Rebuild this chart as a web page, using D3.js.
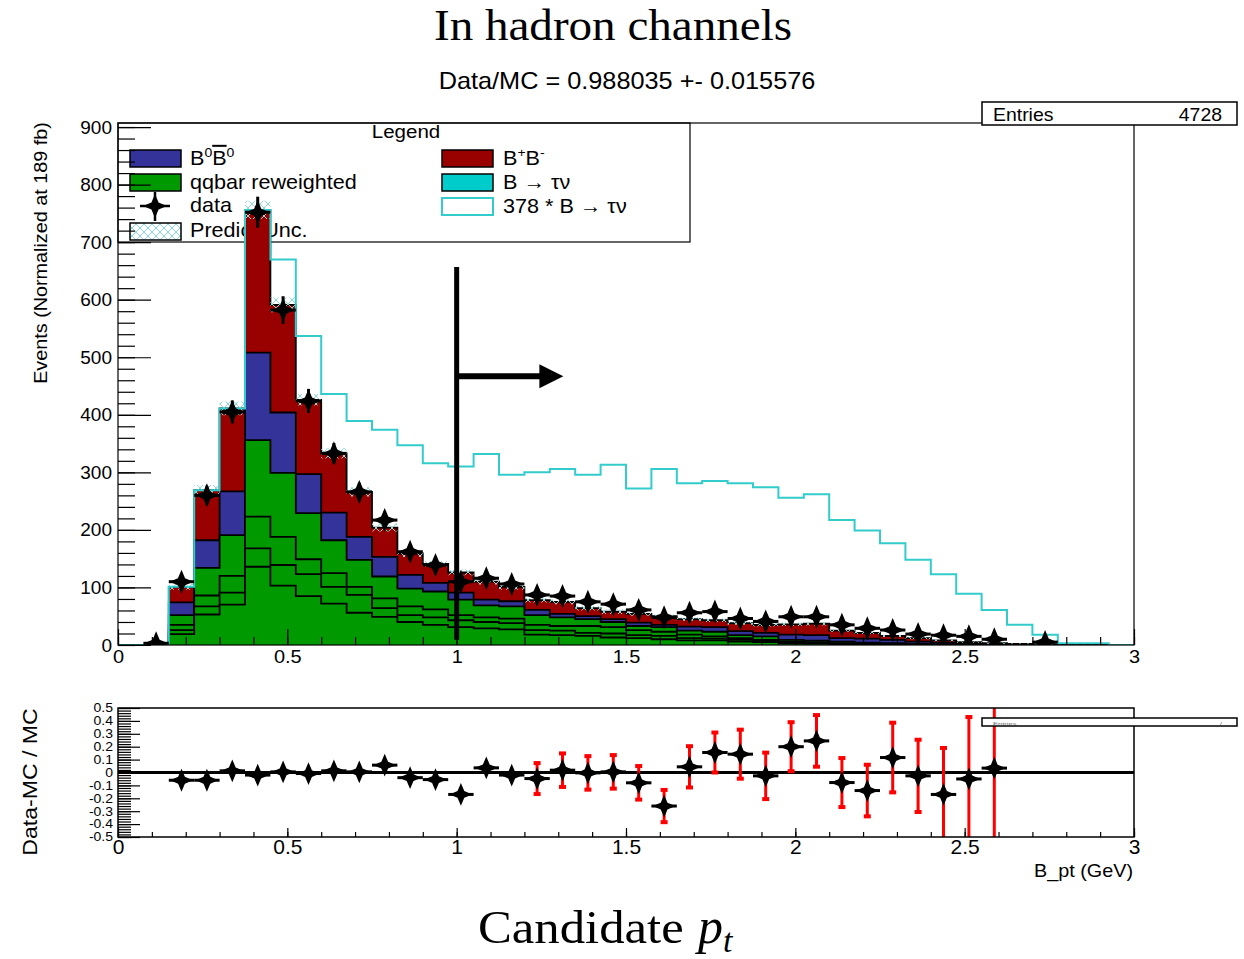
<!DOCTYPE html>
<html>
<head>
<meta charset="utf-8">
<script src="https://cdn.jsdelivr.net/npm/d3@7"></script>
<style>
  body { margin: 0; background: #fff; }
  svg { display: block; }
  text { font-family: "Liberation Sans", Arial, sans-serif; }
</style>
</head>
<body>
<div id="chart"></div>
<script>
// binning: 40 bins of 0.075 GeV over 0-3 GeV
var nBins = 40, binW = 0.075;

var xTickLabels = ["0", "0.5", "1", "1.5", "2", "2.5", "3"];
var yTickLabels = ["0", "100", "200", "300", "400", "500", "600", "700", "800", "900"];
var ratioTickLabels = ["-0.5", "-0.4", "-0.3", "-0.2", "-0.1", "0", "0.1", "0.2", "0.3", "0.4", "0.5"];

// stacked MC components (bottom to top), events per bin
var qq1  = [0,0,19,53,70,136,103,85,72,56,49,40,35,31,29,27,18,17,16,13,12,10,8,8,6,5,3,2.5,1.5,1,0.5,0.3,0.2,0.1,0,0,0,0,0,0];
var qq2  = [0,0,7,14,21,32,36,38,29,31,15,12,13,12,11,11,8,8,5,7,5,6,4,3,3,2,1,1,0.5,0.5,0.5,0.3,0.2,0.1,0.1,0,0,0,0,0];
var qq3  = [0,0,9,19,29,55,49,26,24,14,17,15,14,9,8,8,9,8,12,11,9,7,6,4,3,2,2,1.5,1,1,1,0.4,0.2,0.2,0.1,0.1,0,0,0,0];
var qq4  = [0,0,17,48,71,133,111,80,57,47,38,31,31,27,21,21,17,15,12,9,7,8,7,8,5,6,3,2.5,3,1.5,1,0.7,0.4,0.3,0.2,0.1,0.1,0,0,0];
var b0b0 = [0,0,22,48,76,152,105,68,48,40,34,24,15,12,10,9,9,6,5,5,6,4,7,8,7,6,9,9.5,6,7,6,4.3,3,1.8,1.1,0.8,0.5,0.3,0.2,0];
var bpbm = [0,0,27,87,144,248,187,129,103,78,51,37,33,35,31,25,17,21,14,13,15,15,13,12,14,14,18,20,13,10,7,6,4,2.5,1.5,1,0.6,0.3,0.2,0];
var predUnc = [0,0,5,9,12,16,13,10,9,8,7,6,5,5,5,5,4,4,4,4,3,3,3,3,3,3,3,3,2,2,2,2,1.5,1,1,0.5,0.5,0.3,0.2,0];

// 378 * B -> tau nu
var sig378 = [0,0,101,269,411,756,670,537,436,389,374,347,316,310,332,296,300,306,296,313,272,306,281,285,281,274,256,262,217,199,177,148,123,89,61,35,18,3,3,0];

// data
var dataVals = [0,3,110,260,405,752,582,424,333,266,217,162,139,110,116,106,87,85,75,71,61,48,56,58,46,41,49,49,35,29,26,19,17,15,10,0,5,0,0,0];
var dataErr  = [0,2,10,16,20,27,24,21,18,16,15,13,12,10,11,10,9,9,9,8,8,7,7,8,7,6,7,7,6,5,5,4,4,4,3,0,2,0,0,0];

// (Data-MC)/MC
var ratioVals = [null,null,-0.06,-0.06,0.013,-0.02,0.005,-0.008,0.013,0.005,0.057,-0.04,-0.055,-0.17,0.036,-0.02,
                 -0.047,0.018,-0.003,0.005,-0.08,-0.26,0.044,0.155,0.142,-0.026,0.2,0.245,-0.078,-0.14,0.116,-0.026,
                 -0.17,-0.05,0.034,null,null,null,null,null];
var ratioErr  = [null,null,0.07,0.05,0.04,0.03,0.03,0.04,0.04,0.05,0.05,0.06,0.06,0.07,0.07,0.07,
                 0.12,0.13,0.13,0.13,0.13,0.125,0.16,0.155,0.19,0.18,0.19,0.2,0.19,0.2,0.27,0.28,
                 0.36,0.48,0.7,null,null,null,null,null];

// selection cut drawn as an arrow
var cut = { x: 1.0, top: 657, bottom: 9, arrowY: 467, arrowTo: 1.315 };

var colors = { qq1: "#009900", qq2: "#009900", qq3: "#009900", qq4: "#009900", b0b0: "#333399", bpbm: "#990000" };
var cyan = "#33cccc";

var W = 1244, H = 959;
var svg = d3.select("#chart").append("svg").attr("width", W).attr("height", H);

var defs = svg.append("defs");
var pat = defs.append("pattern").attr("id", "hatch").attr("patternUnits", "userSpaceOnUse")
  .attr("width", 8).attr("height", 8);
pat.append("path").attr("d", "M0,0L8,8M8,0L0,8").attr("stroke", "#8fd8d8").attr("stroke-width", 1);

// helper for ROOT-ish stretched text
function label(g, x, y, str, size, o) {
  o = o || {};
  var tr = "translate(" + x + "," + y + ")" + (o.rot ? " rotate(" + o.rot + ")" : "") +
           " scale(" + (o.sx || 1.08) + "," + (o.sy || 1) + ")";
  var t = g.append("text").attr("transform", tr).attr("font-size", size)
    .attr("text-anchor", o.anchor || "start")
    .attr("font-style", o.italic ? "italic" : null).text(str);
  if (o.font) t.style("font-family", o.font);
  return t;
}

// titles
label(svg, 613, 40, "In hadron channels", 44, { anchor: "middle", font: "'Liberation Serif', serif", sx: 1.07 });
label(svg, 627, 89, "Data/MC = 0.988035 +- 0.015576", 23, { anchor: "middle", sx: 1.1 });

// ---------- main pad ----------
var x = d3.scaleLinear().domain([0, 3]).range([118, 1134]);
var y = d3.scaleLinear().domain([0, 907]).range([645, 123]);

svg.append("rect").attr("x", 118).attr("y", 123).attr("width", 1016).attr("height", 522).attr("fill", "#fff");

// legend (drawn under the histograms)
var leg = svg.append("g");
leg.append("rect").attr("x", 118).attr("y", 123).attr("width", 572).attr("height", 119)
  .attr("fill", "#fff").attr("stroke", "#000").attr("stroke-width", 1.2);
label(leg, 406, 138, "Legend", 19, { anchor: "middle" });

function legBox(bx, cy, fill, stroke) {
  leg.append("rect").attr("x", bx).attr("y", cy - 8).attr("width", 51).attr("height", 17)
    .attr("fill", fill).attr("stroke", stroke || "#000").attr("stroke-width", stroke ? 2 : 1.5);
}
legBox(130, 158, colors.b0b0);
legBox(130, 182, colors.qq4);
legBox(130, 231, "url(#hatch)");
legBox(442, 158, colors.bpbm);
legBox(442, 182, "#00cccc");
legBox(442, 206, "#fff", cyan);

var t1 = label(leg, 190, 165, "", 20);
t1.append("tspan").text("B");
t1.append("tspan").attr("dy", -8).attr("font-size", 13).text("0");
t1.append("tspan").attr("dy", 8).attr("text-decoration", "overline").text("B");
t1.append("tspan").attr("dy", -8).attr("font-size", 13).text("0");
label(leg, 190, 189, "qqbar reweighted", 20);
label(leg, 190, 212, "data", 20);
label(leg, 190, 237, "Predict Unc.", 20);
var t2 = label(leg, 503, 165, "", 20);
t2.append("tspan").text("B");
t2.append("tspan").attr("dy", -8).attr("font-size", 13).text("+");
t2.append("tspan").attr("dy", 8).text("B");
t2.append("tspan").attr("dy", -8).attr("font-size", 13).text("-");
label(leg, 503, 189, "B \u2192 \u03c4\u03bd", 20);
label(leg, 503, 213, "378 * B \u2192 \u03c4\u03bd", 20);

// 4-pointed star marker (ROOT full cross)
var star4 = {
  draw: function (ctx, size) {
    var R = Math.sqrt(size), r = R * 0.42;
    for (var k = 0; k < 8; k++) {
      var a = k * Math.PI / 4 - Math.PI / 2, rad = k % 2 ? r : R;
      if (k === 0) ctx.moveTo(rad * Math.cos(a), rad * Math.sin(a));
      else ctx.lineTo(rad * Math.cos(a), rad * Math.sin(a));
    }
    ctx.closePath();
  }
};
var marker = d3.symbol().type(star4).size(144);

leg.append("line").attr("x1", 140).attr("x2", 170).attr("y1", 206).attr("y2", 206).attr("stroke", "#000").attr("stroke-width", 2.5);
leg.append("line").attr("x1", 155).attr("x2", 155).attr("y1", 192).attr("y2", 221).attr("stroke", "#000").attr("stroke-width", 2.5);
leg.append("path").attr("d", marker()).attr("transform", "translate(155,206)");

// histograms
svg.append("clipPath").attr("id", "clipMain").append("rect")
  .attr("x", 118).attr("y", 123).attr("width", 1016).attr("height", 522);
var plot = svg.append("g").attr("clip-path", "url(#clipMain)");

var keys = ["qq1", "qq2", "qq3", "qq4", "b0b0", "bpbm"];
var src = { qq1: qq1, qq2: qq2, qq3: qq3, qq4: qq4, b0b0: b0b0, bpbm: bpbm };
var rows = d3.range(nBins).map(function (i) {
  var r = { bin: i };
  keys.forEach(function (k) { r[k] = src[k][i]; });
  return r;
});
var stacked = d3.stack().keys(keys)(rows);

// points at bin low edges + the last upper edge, drawn with a step curve
function edges(vals) {
  return d3.range(nBins + 1).map(function (i) {
    return { e: i * binW, v: vals[Math.min(i, nBins - 1)] };
  });
}
var stepLine = d3.line().x(function (d) { return x(d.e); }).y(function (d) { return y(d.v); }).curve(d3.curveStepAfter);
var stepArea = d3.area().x(function (d) { return x(d.e); }).y0(y(0)).y1(function (d) { return y(d.v); }).curve(d3.curveStepAfter);

for (var k = stacked.length - 1; k >= 0; k--) {
  var cum = stacked[k].map(function (d) { return d[1]; });
  var pts = edges(cum);
  plot.append("path").attr("d", stepArea(pts)).attr("fill", colors[keys[k]]);
  plot.append("path").attr("d", stepLine(pts)).attr("fill", "none").attr("stroke", "#000").attr("stroke-width", 1.8);
}

// prediction uncertainty band
var totals = stacked[stacked.length - 1].map(function (d) { return d[1]; });
var bandPts = d3.range(nBins + 1).map(function (i) {
  var j = Math.min(i, nBins - 1);
  return { e: i * binW, lo: totals[j] - predUnc[j], hi: totals[j] + predUnc[j] };
});
plot.append("path").attr("fill", "url(#hatch)")
  .attr("d", d3.area().x(function (d) { return x(d.e); })
    .y0(function (d) { return y(Math.max(0, d.lo)); }).y1(function (d) { return y(d.hi); })
    .curve(d3.curveStepAfter)(bandPts));

// 378 x signal
plot.append("path").attr("d", stepLine(edges(sig378))).attr("fill", "none")
  .attr("stroke", cyan).attr("stroke-width", 2);

// data points
var dataG = plot.append("g");
dataVals.forEach(function (v, i) {
  if (v <= 0) return;
  var cx = x((i + 0.5) * binW), cy = y(v);
  dataG.append("line").attr("x1", x(i * binW)).attr("x2", x((i + 1) * binW)).attr("y1", cy).attr("y2", cy)
    .attr("stroke", "#000").attr("stroke-width", 3);
  dataG.append("line").attr("x1", cx).attr("x2", cx).attr("y1", y(v - dataErr[i])).attr("y2", y(v + dataErr[i]))
    .attr("stroke", "#000").attr("stroke-width", 3);
  dataG.append("path").attr("d", marker()).attr("transform", "translate(" + cx + "," + cy + ")");
});

// cut arrow
svg.append("line").attr("x1", x(cut.x)).attr("x2", x(cut.x)).attr("y1", y(cut.top)).attr("y2", y(cut.bottom))
  .attr("stroke", "#000").attr("stroke-width", 5);
var tipX = x(cut.arrowTo), ay = y(cut.arrowY);
svg.append("line").attr("x1", x(cut.x)).attr("x2", tipX - 22).attr("y1", ay).attr("y2", ay)
  .attr("stroke", "#000").attr("stroke-width", 6);
svg.append("path").attr("d", "M" + tipX + "," + ay + "L" + (tipX - 24) + "," + (ay - 12) + "L" + (tipX - 24) + "," + (ay + 12) + "Z")
  .attr("fill", "#000");

// axes of main pad
function styleAxis(g) { g.select(".domain").remove(); g.attr("font-family", null); }
function inTicks(g) { g.select(".domain").remove(); g.selectAll("line").attr("stroke", "#000").attr("stroke-width", 1.2); }

svg.append("g").attr("transform", "translate(118,0)")
  .call(d3.axisRight(y).tickValues(d3.range(0, 901, 20)).tickSize(17).tickFormat(""))
  .call(inTicks);
svg.append("g").attr("transform", "translate(118,0)")
  .call(d3.axisRight(y).tickValues(d3.range(0, 901, 100)).tickSize(33).tickFormat(""))
  .call(inTicks);
var yAx = svg.append("g").attr("transform", "translate(118,0)")
  .call(d3.axisLeft(y).tickValues(d3.range(0, 901, 100)).tickSize(0).tickPadding(6)
    .tickFormat(function (d, i) { return yTickLabels[i]; }))
  .call(styleAxis);
yAx.selectAll("text").attr("font-size", 19).attr("fill", "#000");

svg.append("g").attr("transform", "translate(0,645)")
  .call(d3.axisTop(x).tickValues(d3.range(0, 3.001, 0.1)).tickSize(8).tickFormat("")).call(inTicks);
svg.append("g").attr("transform", "translate(0,645)")
  .call(d3.axisTop(x).tickValues(d3.range(0, 3.001, 0.5)).tickSize(16).tickFormat("")).call(inTicks);
var xAx = svg.append("g").attr("transform", "translate(0,645)")
  .call(d3.axisBottom(x).tickValues(d3.range(0, 3.001, 0.5)).tickSize(0).tickPadding(5)
    .tickFormat(function (d, i) { return xTickLabels[i]; }))
  .call(styleAxis);
xAx.selectAll("text").attr("font-size", 19).attr("fill", "#000").attr("transform", "scale(1.05,1)");

svg.append("rect").attr("x", 118).attr("y", 123).attr("width", 1016).attr("height", 522)
  .attr("fill", "none").attr("stroke", "#000").attr("stroke-width", 1.2);

label(svg, 47, 253, "Events (Normalized at 189 fb)", 18, { anchor: "middle", rot: -90, sx: 1.1 });

// stat box
var stat = svg.append("g");
stat.append("rect").attr("x", 982).attr("y", 102).attr("width", 255).attr("height", 23)
  .attr("fill", "#fff").attr("stroke", "#000").attr("stroke-width", 1.5);
label(stat, 993, 121, "Entries", 18);
label(stat, 1222, 121, "4728", 18, { anchor: "end" });

// ---------- ratio pad ----------
var yr = d3.scaleLinear().domain([-0.5, 0.5]).range([837, 708]);

svg.append("rect").attr("x", 118).attr("y", 708).attr("width", 1016).attr("height", 129).attr("fill", "#fff");

svg.append("g").attr("transform", "translate(118,0)")
  .call(d3.axisRight(yr).tickValues(d3.range(-0.5, 0.5001, 0.02)).tickSize(13).tickFormat("")).call(inTicks);
svg.append("g").attr("transform", "translate(118,0)")
  .call(d3.axisRight(yr).tickValues(d3.range(-0.5, 0.5001, 0.1)).tickSize(22).tickFormat("")).call(inTicks);
var yrAx = svg.append("g").attr("transform", "translate(118,0)")
  .call(d3.axisLeft(yr).tickValues(d3.range(-0.5, 0.5001, 0.1)).tickSize(0).tickPadding(5)
    .tickFormat(function (d, i) { return ratioTickLabels[i]; }))
  .call(styleAxis);
yrAx.selectAll("text").attr("font-size", 14).attr("fill", "#000").attr("transform", "scale(1,0.85)");

svg.append("g").attr("transform", "translate(0,837)")
  .call(d3.axisTop(x).tickValues(d3.range(0, 3.001, 0.1)).tickSize(5).tickFormat("")).call(inTicks);
svg.append("g").attr("transform", "translate(0,837)")
  .call(d3.axisTop(x).tickValues(d3.range(0, 3.001, 0.5)).tickSize(9).tickFormat("")).call(inTicks);
var xrAx = svg.append("g").attr("transform", "translate(0,837)")
  .call(d3.axisBottom(x).tickValues(d3.range(0, 3.001, 0.5)).tickSize(0).tickPadding(3)
    .tickFormat(function (d, i) { return xTickLabels[i]; }))
  .call(styleAxis);
xrAx.selectAll("text").attr("font-size", 20).attr("fill", "#000").attr("transform", "scale(1.05,1)");

svg.append("clipPath").attr("id", "clipRatio").append("rect")
  .attr("x", 118).attr("y", 708).attr("width", 1016).attr("height", 129);
var rplot = svg.append("g").attr("clip-path", "url(#clipRatio)");

rplot.append("line").attr("x1", x(0)).attr("x2", x(3)).attr("y1", yr(0)).attr("y2", yr(0))
  .attr("stroke", "#000").attr("stroke-width", 3);

var rMarker = d3.symbol().type(star4).size(130);
var markerReach = 11; // px hidden behind the marker
ratioVals.forEach(function (v, i) {
  if (v === null) return;
  var cx = x((i + 0.5) * binW), e = ratioErr[i];
  var top = v + e, bot = v - e;
  if (yr(v) - yr(top) > markerReach) {
    rplot.append("line").attr("x1", cx).attr("x2", cx)
      .attr("y1", yr(Math.min(top, 0.55))).attr("y2", yr(Math.max(bot, -0.55)))
      .attr("stroke", "#ff0000").attr("stroke-width", 3);
    if (top < 0.5) rplot.append("rect").attr("x", cx - 3.5).attr("y", yr(top) - 2).attr("width", 7).attr("height", 4).attr("fill", "#ff0000");
    if (bot > -0.5) rplot.append("rect").attr("x", cx - 3.5).attr("y", yr(bot) - 2).attr("width", 7).attr("height", 4).attr("fill", "#ff0000");
  }
  rplot.append("line").attr("x1", x(i * binW)).attr("x2", x((i + 1) * binW)).attr("y1", yr(v)).attr("y2", yr(v))
    .attr("stroke", "#000").attr("stroke-width", 3);
  rplot.append("path").attr("d", rMarker()).attr("transform", "translate(" + cx + "," + yr(v) + ")");
});

svg.append("rect").attr("x", 118).attr("y", 708).attr("width", 1016).attr("height", 129)
  .attr("fill", "none").attr("stroke", "#000").attr("stroke-width", 1.5);

// squashed stat box of the ratio pad
var stat2 = svg.append("g");
stat2.append("rect").attr("x", 982).attr("y", 718).attr("width", 255).attr("height", 8)
  .attr("fill", "#fff").attr("stroke", "#000").attr("stroke-width", 1.5);
label(stat2, 993, 725, "Entries", 7, { sy: 0.6 }).attr("fill", "#666");
label(stat2, 1222, 725, "/", 7, { sy: 0.6, anchor: "end" }).attr("fill", "#666");

label(svg, 37, 782, "Data-MC / MC", 21, { anchor: "middle", rot: -90, sx: 1.1 });
label(svg, 1133, 877, "B_pt (GeV)", 18, { anchor: "end", sx: 1.1 });

// bottom caption
label(svg, 478, 943, "Candidate", 47, { font: "'Liberation Serif', serif", sx: 1.08 });
var pt = label(svg, 698, 943, "", 50, { font: "'Liberation Serif', serif", sx: 1.0 });
pt.append("tspan").attr("font-style", "italic").text("p");
pt.append("tspan").attr("font-style", "italic").attr("font-size", 34).attr("dy", 9).text("t");
</script>
</body>
</html>
